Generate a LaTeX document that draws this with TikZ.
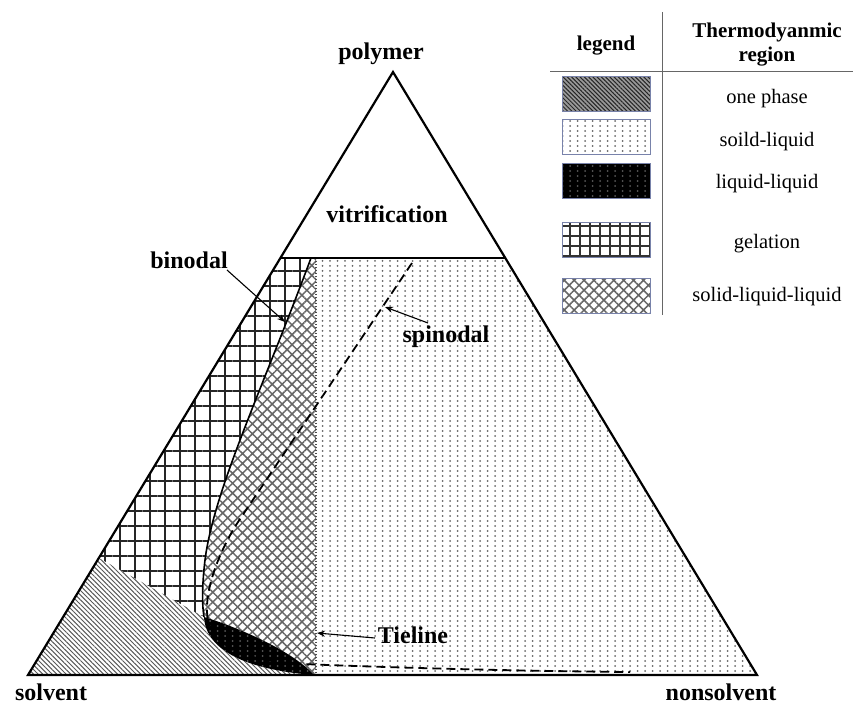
\documentclass[tikz,border=0pt]{standalone}
\usepackage{fontspec}
\setmainfont{Liberation Serif}
\usetikzlibrary{patterns,patterns.meta,arrows.meta}
\definecolor{swb}{RGB}{120,130,170}
\pgfdeclarepatternformonly{sldots}{\pgfqpoint{-1.5pt}{-1.5pt}}{\pgfqpoint{1.5pt}{1.5pt}}{\pgfqpoint{7.5pt}{5pt}}{\pgfpathcircle{\pgfpointorigin}{1pt}\pgfusepath{fill}}
\begin{document}
\begin{tikzpicture}[x=1pt,y=-1pt,
  lbl/.style={font=\bfseries\fontsize{24}{28}\selectfont, inner sep=0pt, anchor=base},
  legtxt/.style={font=\fontsize{20.5}{24}\selectfont, inner sep=0pt, anchor=base},
  leghead/.style={font=\bfseries\fontsize{21}{24}\selectfont, inner sep=0pt, anchor=base},
  onephase/.style={pattern={Lines[angle=-45,distance=3.3pt,line width=1pt]}, pattern color=black!65},
  gelfill/.style={pattern={Hatch[angle=0,distance=15pt,line width=1.5pt]}, pattern color=black!85},
  sllfill/.style={pattern={Hatch[angle=45,distance=7pt,line width=1.5pt]}, pattern color=black!60},
  slfill/.style={pattern=sldots, pattern color=black!60},
  swatch/.style={draw=swb, line width=1pt, minimum width=88pt, minimum height=35pt, inner sep=0pt},
  pointer/.style={line width=1.1pt, -{Stealth[length=8pt,width=6pt]}},
  legline/.style={black!60, line width=0.9pt}
]
\useasboundingbox (0,0) rectangle (853,706);

% key points
\coordinate (S) at (28,675);
\coordinate (N) at (757,675);
\coordinate (P) at (393,72);
\coordinate (VL) at (280.4,258);
\coordinate (VR) at (505.3,258);
\coordinate (B0) at (311,258);
\coordinate (T0) at (316,258);
\coordinate (T1) at (316,675);
\coordinate (G1) at (98.8,558);
\coordinate (K) at (204,617);
\coordinate (E) at (314,675);

% one phase
\path[onephase] (S) -- (G1) -- (K) .. controls (206,652) and (250,670) .. (E) -- cycle;
% gelation
\path[gelfill] (VL) -- (B0) .. controls (262,390) and (214,490) .. (205,560)
   .. controls (202,585) and (202,605) .. (K) -- (G1) -- cycle;
% solid-liquid-liquid
\path[sllfill] (B0) -- (T0) -- (T1) -- (E) .. controls (290,648) and (228,624) .. (K)
   .. controls (202,605) and (202,585) .. (205,560) .. controls (214,490) and (262,390) .. (B0) -- cycle;
% solid-liquid
\path[slfill] (T0) -- (VR) -- (N) -- (T1) -- cycle;
% liquid-liquid
\fill[black] (K) .. controls (228,624) and (290,648) .. (E) .. controls (250,670) and (206,652) .. (K) -- cycle;
\path[pattern=sldots, pattern color=black!65] (K) .. controls (228,624) and (290,648) .. (E) .. controls (250,670) and (206,652) .. (K) -- cycle;

% tieline boundary
\draw[black!70, line width=1.3pt, dash pattern=on 1.3pt off 1.7pt] (T0) -- (T1);

% spinodal
\coordinate (SP0) at (412,263);
\coordinate (SP1) at (630,672);
\draw[line width=1.8pt, dash pattern=on 9pt off 5pt] (SP0) -- (236,525)
   .. controls (216,558) and (206,590) .. (207,612)
   .. controls (209,650) and (250,661) .. (303,664)
   .. controls (400,668) and (520,671) .. (SP1);

% binodal
\draw[line width=1.6pt] (B0) .. controls (262,390) and (214,490) .. (205,560)
   .. controls (202,585) and (202,605) .. (K);

% vitrification line and triangle
\draw[line width=1.5pt] (VL) -- (VR);
\draw[line width=2.2pt, line join=miter] (S) -- (P) -- (N) -- cycle;

% labels
\node[lbl] (lpoly) at (381,60) {polymer};
\node[lbl] (lvit) at (387,222) {vitrification};
\node[lbl] (lbin) at (189,268) {binodal};
\node[lbl] (lspin) at (446,342) {spinodal};
\node[lbl] (ltie) at (413,643) {Tieline};
\node[lbl] (lsolv) at (51,700) {solvent};
\node[lbl] (lnons) at (721,700) {nonsolvent};

% pointers
\coordinate (binS) at (227,270);
\coordinate (binT) at (285,322);
\coordinate (spS) at (428,323);
\coordinate (spT) at (385,307);
\coordinate (tiS) at (375,638);
\coordinate (tiT) at (317,633);
\draw[pointer] (binS) -- (binT);
\draw[pointer] (spS) -- (spT);
\draw[pointer] (tiS) -- (tiT);

% legend table
\coordinate (lv0) at (662,12);
\coordinate (lv1) at (662,315);
\coordinate (lh0) at (550,71);
\coordinate (lh1) at (853,71);
\draw[legline] (lv0) -- (lv1);
\draw[legline] (lh0) -- (lh1);
\node[leghead] (hleg) at (606,51) {legend};
\node[leghead] (hth1) at (767,38) {Thermodyanmic};
\node[leghead] (hth2) at (767,62) {region};

\node[swatch, preaction={fill=black!40}, pattern={Lines[angle=-45,distance=3pt,line width=1pt]}, pattern color=black!85] (sw1) at (606,94.5) {};
\node[swatch, slfill] (sw2) at (606,137) {};
\node[swatch, preaction={fill=black}, pattern=sldots, pattern color=black!65] (sw3) at (606,180.5) {};
\node[swatch, pattern={Hatch[angle=0,distance=10pt,line width=1.5pt]}, pattern color=black!80] (sw4) at (606,240) {};
\node[swatch, sllfill] (sw5) at (606,295.5) {};

\node[legtxt] (t1) at (767,103) {one phase};
\node[legtxt] (t2) at (767,146) {soild-liquid};
\node[legtxt] (t3) at (767,188) {liquid-liquid};
\node[legtxt] (t4) at (767,248) {gelation};
\node[legtxt] (t5) at (767,301) {solid-liquid-liquid};
\end{tikzpicture}
\end{document}
